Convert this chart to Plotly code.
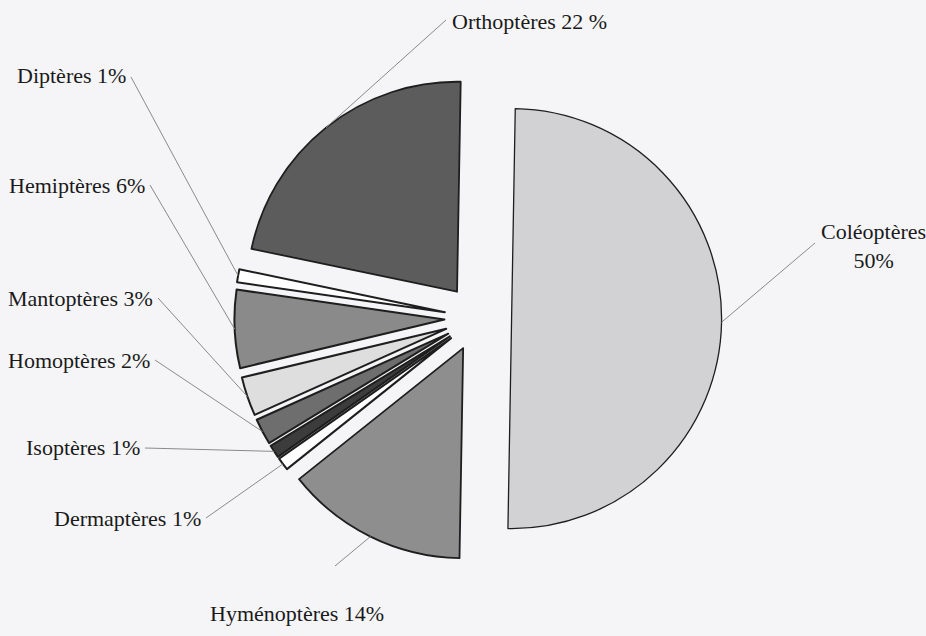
import numpy as np
import plotly.graph_objects as go

# data, clockwise from 12 o'clock
orders = ["Coléoptères", "Hyménoptères", "Dermaptères", "Isoptères", "Homoptères",
          "Mantoptères", "Hemiptères", "Diptères", "Orthoptères"]
percents = [50, 14, 1, 1, 2, 3, 6, 1, 22]
label_texts = ["Coléoptères<br>50%", "Hyménoptères 14%", "Dermaptères 1%", "Isoptères 1%",
               "Homoptères 2%", "Mantoptères 3%", "Hemiptères 6%", "Diptères 1%",
               "Orthoptères 22 %"]

colors = ["#d2d2d4", "#8e8e8e", "#ffffff", "#3c3c3c", "#6e6e6e",
          "#dedede", "#8a8a8a", "#ffffff", "#5c5c5c"]

W, H = 926, 636
# pie geometry in page pixels
CX, CY, R = 478, 318, 210
PULL = 0.16
ROT = 1
box = R * (2 + 2 * PULL)

# label placement (page px): anchor x, y, xanchor, leader start x, y
label_pos = [
    (873, 246, "center", 815, 243),
    (297, 613, "center", 335, 566),
    (203, 518, "right", 206, 518),
    (142, 448, "right", 145, 448),
    (152, 360, "right", 155, 360),
    (155, 298, "right", 158, 298),
    (147, 185, "right", 150, 185),
    (128, 76, "right", 131, 77),
    (450, 22, "left", 446, 20),
]


def px(x):
    return x / W


def py(y):
    return 1 - y / H


fig = go.Figure(go.Pie(
    labels=orders,
    values=percents,
    sort=False,
    direction="clockwise",
    rotation=ROT,
    pull=[PULL] * len(percents),
    textinfo="none",
    marker=dict(colors=colors,
                line=dict(color="#1e1e1e", width=[1.3, 1.8, 2, 2, 2, 2, 2, 2, 1.8])),
    domain=dict(x=[px(CX - box / 2), px(CX + box / 2)],
                y=[py(CY + box / 2), py(CY - box / 2)]),
    showlegend=False,
))

# leader lines: from label to the outer arc at each slice's mid angle
total = sum(percents)
cum = np.cumsum([0] + percents[:-1])
for i, (val, start) in enumerate(zip(percents, cum)):
    mid = np.radians(ROT + (start + val / 2) / total * 360)
    ex = CX + (1 + PULL) * R * np.sin(mid)
    ey = CY - (1 + PULL) * R * np.cos(mid)
    lx, ly, anchor, sx, sy = label_pos[i]
    fig.add_shape(type="line", xref="paper", yref="paper",
                  x0=px(sx), y0=py(sy), x1=px(ex), y1=py(ey),
                  line=dict(color="#8a8a8a", width=1))
    fig.add_annotation(x=px(lx), y=py(ly), xref="paper", yref="paper",
                       text=label_texts[i], showarrow=False,
                       xanchor=anchor, yanchor="middle", align="center",
                       font=dict(family="Liberation Serif", size=22, color="#1a1a1a"))

fig.update_layout(
    width=W, height=H,
    margin=dict(l=0, r=0, t=0, b=0),
    paper_bgcolor="#f5f5f7",
    plot_bgcolor="#f5f5f7",
)

fig.write_html("out.html", config={"displayModeBar": False},
               post_script="document.body.style.margin='0';")
